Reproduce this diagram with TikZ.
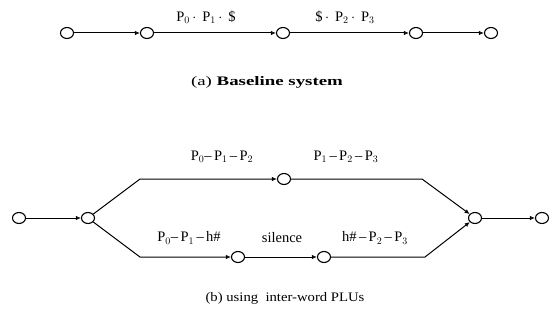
\documentclass[tikz,border=0pt]{standalone}
\usepackage{fontspec}
\setmainfont{Liberation Serif}
\usetikzlibrary{arrows.meta,shapes.geometric}
\begin{document}
\begin{tikzpicture}[x=1pt,y=-1pt,
  state/.style={draw,ellipse,line width=1.1pt,minimum width=13pt,minimum height=11pt,inner sep=0pt},
  arc/.style={line width=1pt,-{Latex[open,length=5pt,width=4.5pt]}},
  lbl/.style={font=\fontsize{14.5}{16}\selectfont,inner sep=0pt},
  captiontext/.style={font=\fontsize{13}{15}\selectfont,inner sep=0pt}]
\useasboundingbox (0,0) rectangle (553,321);
% (a) baseline chain
\node[state] (a1) at (67,33) {};
\node[state] (a2) at (147,33) {};
\node[state] (a3) at (283,33) {};
\node[state] (a4) at (416,33) {};
\node[state] (a5) at (491,33) {};
\draw[arc] (a1) -- (a2);
\draw[arc] (a2) -- (a3);
\draw[arc] (a3) -- (a4);
\draw[arc] (a4) -- (a5);
\node[lbl] (la1) at (206,17) {P$_0$\,$\cdot$\ \,P$_1$\,$\cdot$\ \,\$};
\node[lbl] (la2) at (345,17) {\$\,$\cdot$\ \,P$_2$\,$\cdot$\ \,P$_3$};
\node[captiontext] (capa) at (267,82) {\scalebox{1.45}[1]{(a) \textbf{Baseline system}}};
% (b) network with inter-word units
\node[state] (b1) at (19,218) {};
\node[state] (b2) at (88,218) {};
\node[state] (t1) at (284,179) {};
\node[state] (s1) at (238,257) {};
\node[state] (s2) at (324,257) {};
\node[state] (r) at (475,218) {};
\node[state] (e) at (542,218) {};
\coordinate (tl) at (140,179);
\coordinate (tr) at (422,179);
\coordinate (bl) at (140,257);
\coordinate (br) at (425,257);
\draw[arc] (b1) -- (b2);
\draw[arc] (b2) -- (tl) -- (t1);
\draw[arc] (t1) -- (tr) -- (r);
\draw[arc] (b2) -- (bl) -- (s1);
\draw[arc] (s1) -- (s2);
\draw[arc] (s2) -- (br) -- (r);
\draw[arc] (r) -- (e);
\node[lbl] (lb1) at (222,157) {P$_0$--\,P$_1$\,--\,P$_2$};
\node[lbl] (lb2) at (346,157) {P$_1$\,--\,P$_2$\,--\,P$_3$};
\node[lbl] (lb3) at (189,238) {P$_0$--\,P$_1$\,--\,h\#};
\node[lbl] (lb4) at (282,238) {silence};
\node[lbl] (lb5) at (375,238) {h\#\,--\,P$_2$\,--\,P$_3$};
\node[captiontext] (capb) at (285,298) {\scalebox{1.13}[1]{(b) using\ \ inter-word PLUs}};
\end{tikzpicture}
\end{document}
